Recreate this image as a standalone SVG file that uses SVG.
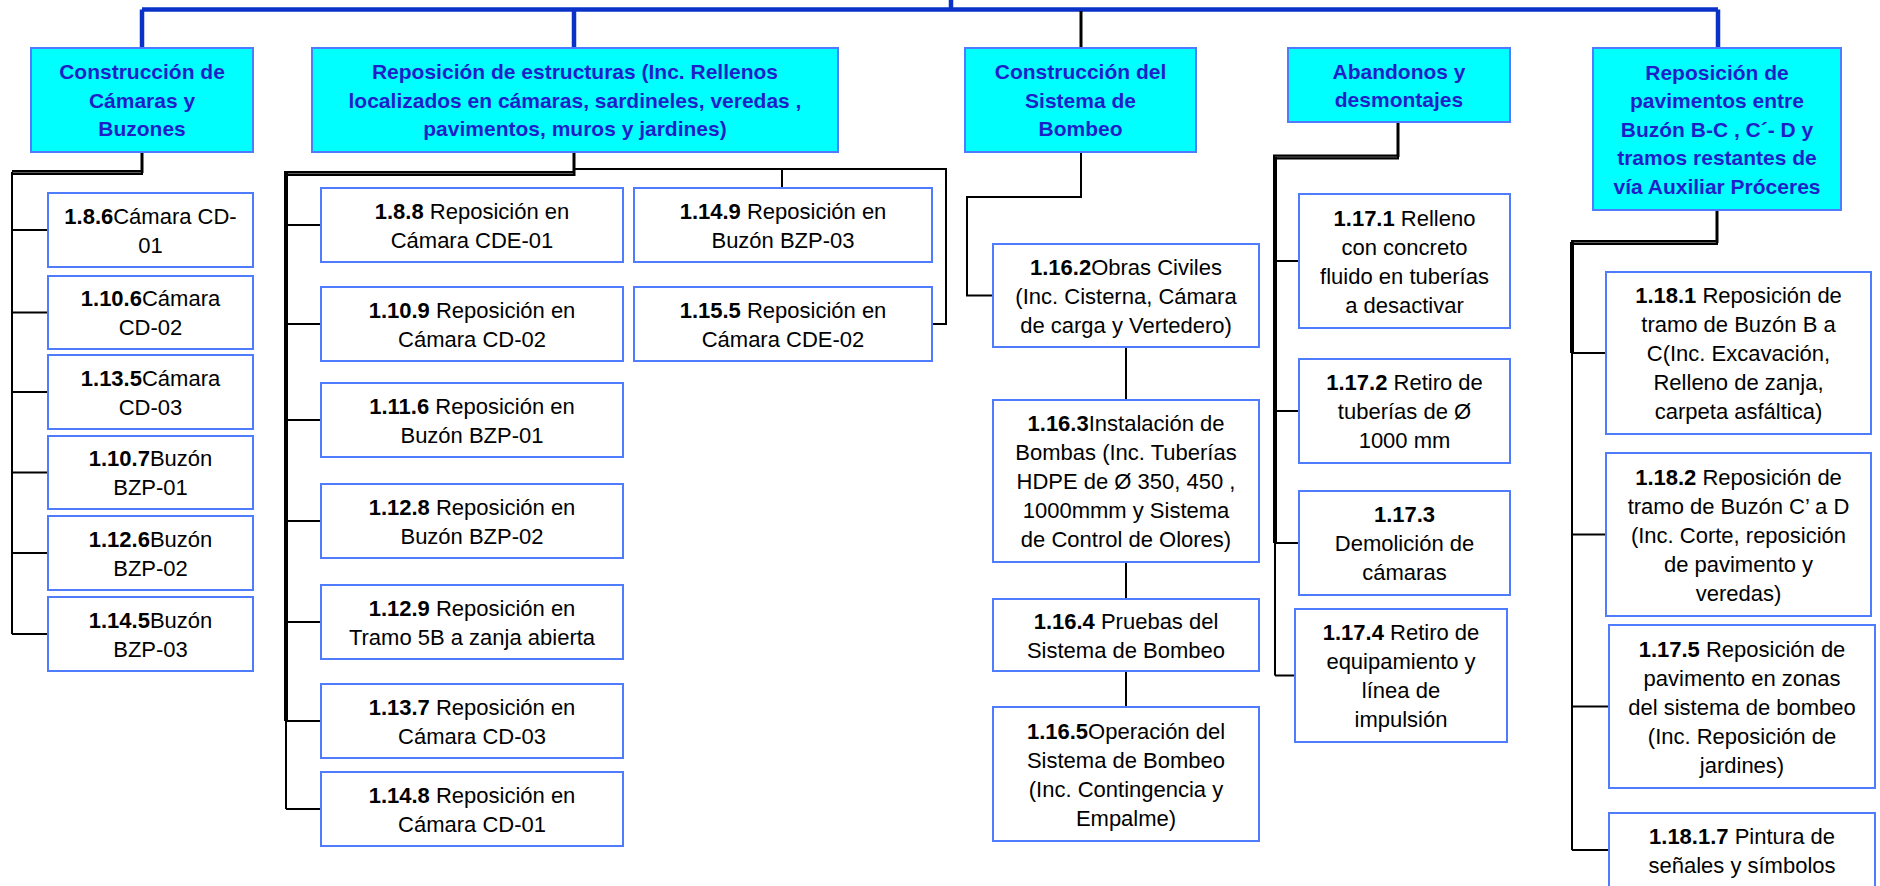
<svg xmlns="http://www.w3.org/2000/svg" width="1880" height="886" viewBox="0 0 1880 886">
  <style>
    .hdr rect { fill: #00FFFF; stroke: #4f7cff; stroke-width: 2; }
    .box rect { fill: #ffffff; stroke: #4f7cff; stroke-width: 2; }
    .ht { font-family: "Liberation Sans", Arial, sans-serif; font-size: 21px; font-weight: bold; fill: #1f1fc8; text-anchor: middle; }
    .t { font-family: "Liberation Sans", Arial, sans-serif; font-size: 22px; fill: #000000; text-anchor: middle; }
    .b { font-weight: bold; }
    .blue { fill: none; stroke: #0a32c8; stroke-width: 4.5; }
    .w { fill: none; stroke: #000000; stroke-width: 2; }
    .w3 { fill: none; stroke: #000000; stroke-width: 3; }
    .thick { fill: none; stroke: #000000; stroke-width: 5; }
    .stripe { fill: none; stroke: #777777; stroke-width: 0.8; }
    .rail { fill: none; stroke: #000000; stroke-width: 4; }
  </style>

  <!-- connectors -->
  <g id="connectors">
    <!-- top level bus -->
    <path class="blue" d="M142 9.5 H1718"/>
    <path class="blue" d="M951 0 V9.5"/>
    <path class="blue" stroke-width="4" d="M142 9.5 V48 M574 9.5 V48 M1718 9.5 V48"/>
    <path class="w3" d="M1081 11 V48"/>

    <!-- column 1 -->
    <path class="w3" d="M142 152 V173"/>
    <path class="thick" d="M12 172.5 H143"/>
    <path class="stripe" d="M13 172.5 H141"/>
    <path class="w" d="M12 172 V634"/>
    <path class="w" d="M12 230 H48 M12 312.5 H48 M12 392 H48 M12 472.5 H48 M12 553 H48 M12 634 H48"/>

    <!-- column 2 -->
    <path class="w3" d="M574 152 V176"/>
    <path class="w" d="M574 169 H946 V324 H932 M782 169 V188"/>
    <path class="thick" d="M286 173.5 H575"/>
    <path class="stripe" d="M288 173.5 H573"/>
    <path class="rail" d="M286 171 V721"/>
    <path class="w" d="M286 721 V809"/>
    <path class="w" d="M286 225 H321 M286 324 H321 M286 420 H321 M286 521 H321 M286 622 H321 M286 721 H321 M286 809 H321"/>

    <!-- column 3 -->
    <path class="w" d="M1081 152 V197 H967 V295.5 H993"/>
    <path class="w" d="M1126 347 V400 M1126 562 V599 M1126 671 V707"/>

    <!-- column 4 -->
    <path class="w3" d="M1398 122 V157"/>
    <path class="thick" d="M1273 157 H1399"/>
    <path class="stripe" d="M1275 157 H1397"/>
    <path class="rail" d="M1275 157 V543"/>
    <path class="w" d="M1275 543 V675.5"/>
    <path class="w" d="M1275 261 H1299 M1275 411 H1299 M1275 543 H1299 M1275 675.5 H1295"/>

    <!-- column 5 -->
    <path class="w3" d="M1717 210 V243"/>
    <path class="thick" d="M1571 242.5 H1718"/>
    <path class="stripe" d="M1573 242.5 H1716"/>
    <path class="rail" d="M1572 242 V353"/>
    <path class="w" d="M1572 353 V850"/>
    <path class="w" d="M1572 353 H1606 M1572 534.5 H1606 M1572 706.5 H1609 M1572 850 H1609"/>
  </g>

  <!-- header nodes -->
  <g id="h1" class="hdr">
    <rect x="31" y="48" width="222" height="104"/>
    <text class="ht"><tspan x="142" y="79">Construcción de</tspan><tspan x="142" y="107.5">Cámaras y</tspan><tspan x="142" y="136">Buzones</tspan></text>
  </g>
  <g id="h2" class="hdr">
    <rect x="312" y="48" width="526" height="104"/>
    <text class="ht"><tspan x="575" y="79">Reposición de estructuras (Inc. Rellenos</tspan><tspan x="575" y="107.5">localizados en cámaras, sardineles, veredas ,</tspan><tspan x="575" y="136">pavimentos, muros y jardines)</tspan></text>
  </g>
  <g id="h3" class="hdr">
    <rect x="965" y="48" width="231" height="104"/>
    <text class="ht"><tspan x="1080.5" y="79">Construcción del</tspan><tspan x="1080.5" y="107.5">Sistema de</tspan><tspan x="1080.5" y="136">Bombeo</tspan></text>
  </g>
  <g id="h4" class="hdr">
    <rect x="1288" y="48" width="222" height="74"/>
    <text class="ht"><tspan x="1399" y="78.5">Abandonos y</tspan><tspan x="1399" y="107">desmontajes</tspan></text>
  </g>
  <g id="h5" class="hdr">
    <rect x="1593" y="48" width="248" height="162"/>
    <text class="ht"><tspan x="1717" y="79.5">Reposición de</tspan><tspan x="1717" y="108">pavimentos entre</tspan><tspan x="1717" y="136.5">Buzón B-C , C´- D y</tspan><tspan x="1717" y="165">tramos restantes de</tspan><tspan x="1717" y="193.5">vía Auxiliar Próceres</tspan></text>
  </g>

  <!-- column 1 items -->
  <g id="n186" class="box">
    <rect x="48" y="193" width="205" height="74"/>
    <text class="t"><tspan x="150.5" y="223.5"><tspan class="b">1.8.6</tspan>Cámara CD-</tspan><tspan x="150.5" y="252.5">01</tspan></text>
  </g>
  <g id="n1106" class="box">
    <rect x="48" y="276" width="205" height="73"/>
    <text class="t"><tspan x="150.5" y="306"><tspan class="b">1.10.6</tspan>Cámara</tspan><tspan x="150.5" y="335">CD-02</tspan></text>
  </g>
  <g id="n1135" class="box">
    <rect x="48" y="355" width="205" height="74"/>
    <text class="t"><tspan x="150.5" y="385.5"><tspan class="b">1.13.5</tspan>Cámara</tspan><tspan x="150.5" y="414.5">CD-03</tspan></text>
  </g>
  <g id="n1107" class="box">
    <rect x="48" y="436" width="205" height="73"/>
    <text class="t"><tspan x="150.5" y="466"><tspan class="b">1.10.7</tspan>Buzón</tspan><tspan x="150.5" y="495">BZP-01</tspan></text>
  </g>
  <g id="n1126" class="box">
    <rect x="48" y="516" width="205" height="74"/>
    <text class="t"><tspan x="150.5" y="546.5"><tspan class="b">1.12.6</tspan>Buzón</tspan><tspan x="150.5" y="575.5">BZP-02</tspan></text>
  </g>
  <g id="n1145" class="box">
    <rect x="48" y="597" width="205" height="74"/>
    <text class="t"><tspan x="150.5" y="627.5"><tspan class="b">1.14.5</tspan>Buzón</tspan><tspan x="150.5" y="656.5">BZP-03</tspan></text>
  </g>

  <!-- column 2 items -->
  <g id="n188" class="box">
    <rect x="321" y="188" width="302" height="74"/>
    <text class="t"><tspan x="472" y="218.5"><tspan class="b">1.8.8</tspan> Reposición en</tspan><tspan x="472" y="247.5">Cámara CDE-01</tspan></text>
  </g>
  <g id="n1109" class="box">
    <rect x="321" y="287" width="302" height="74"/>
    <text class="t"><tspan x="472" y="317.5"><tspan class="b">1.10.9</tspan> Reposición en</tspan><tspan x="472" y="346.5">Cámara CD-02</tspan></text>
  </g>
  <g id="n1116" class="box">
    <rect x="321" y="383" width="302" height="74"/>
    <text class="t"><tspan x="472" y="413.5"><tspan class="b">1.11.6</tspan> Reposición en</tspan><tspan x="472" y="442.5">Buzón BZP-01</tspan></text>
  </g>
  <g id="n1128" class="box">
    <rect x="321" y="484" width="302" height="74"/>
    <text class="t"><tspan x="472" y="514.5"><tspan class="b">1.12.8</tspan> Reposición en</tspan><tspan x="472" y="543.5">Buzón BZP-02</tspan></text>
  </g>
  <g id="n1129" class="box">
    <rect x="321" y="585" width="302" height="74"/>
    <text class="t"><tspan x="472" y="615.5"><tspan class="b">1.12.9</tspan> Reposición en</tspan><tspan x="472" y="644.5">Tramo 5B a zanja abierta</tspan></text>
  </g>
  <g id="n1137" class="box">
    <rect x="321" y="684" width="302" height="74"/>
    <text class="t"><tspan x="472" y="714.5"><tspan class="b">1.13.7</tspan> Reposición en</tspan><tspan x="472" y="743.5">Cámara CD-03</tspan></text>
  </g>
  <g id="n1148" class="box">
    <rect x="321" y="772" width="302" height="74"/>
    <text class="t"><tspan x="472" y="802.5"><tspan class="b">1.14.8</tspan> Reposición en</tspan><tspan x="472" y="831.5">Cámara CD-01</tspan></text>
  </g>
  <g id="n1149" class="box">
    <rect x="634" y="188" width="298" height="74"/>
    <text class="t"><tspan x="783" y="218.5"><tspan class="b">1.14.9</tspan> Reposición en</tspan><tspan x="783" y="247.5">Buzón BZP-03</tspan></text>
  </g>
  <g id="n1155" class="box">
    <rect x="634" y="287" width="298" height="74"/>
    <text class="t"><tspan x="783" y="317.5"><tspan class="b">1.15.5</tspan> Reposición en</tspan><tspan x="783" y="346.5">Cámara CDE-02</tspan></text>
  </g>

  <!-- column 3 items -->
  <g id="n1162" class="box">
    <rect x="993" y="244" width="266" height="103"/>
    <text class="t"><tspan x="1126" y="274.5"><tspan class="b">1.16.2</tspan>Obras Civiles</tspan><tspan x="1126" y="303.5">(Inc. Cisterna, Cámara</tspan><tspan x="1126" y="332.5">de carga y Vertedero)</tspan></text>
  </g>
  <g id="n1163" class="box">
    <rect x="993" y="400" width="266" height="162"/>
    <text class="t"><tspan x="1126" y="431"><tspan class="b">1.16.3</tspan>Instalación de</tspan><tspan x="1126" y="460">Bombas (Inc. Tuberías</tspan><tspan x="1126" y="489">HDPE de Ø 350, 450 ,</tspan><tspan x="1126" y="518">1000mmm y Sistema</tspan><tspan x="1126" y="547">de Control de Olores)</tspan></text>
  </g>
  <g id="n1164" class="box">
    <rect x="993" y="599" width="266" height="72"/>
    <text class="t"><tspan x="1126" y="628.5"><tspan class="b">1.16.4</tspan> Pruebas del</tspan><tspan x="1126" y="657.5">Sistema de Bombeo</tspan></text>
  </g>
  <g id="n1165" class="box">
    <rect x="993" y="707" width="266" height="134"/>
    <text class="t"><tspan x="1126" y="738.5"><tspan class="b">1.16.5</tspan>Operación del</tspan><tspan x="1126" y="767.5">Sistema de Bombeo</tspan><tspan x="1126" y="796.5">(Inc. Contingencia y</tspan><tspan x="1126" y="825.5">Empalme)</tspan></text>
  </g>

  <!-- column 4 items -->
  <g id="n1171" class="box">
    <rect x="1299" y="194" width="211" height="134"/>
    <text class="t"><tspan x="1404.5" y="225.5"><tspan class="b">1.17.1</tspan> Relleno</tspan><tspan x="1404.5" y="254.5">con concreto</tspan><tspan x="1404.5" y="283.5">fluido en tuberías</tspan><tspan x="1404.5" y="312.5">a desactivar</tspan></text>
  </g>
  <g id="n1172" class="box">
    <rect x="1299" y="359" width="211" height="104"/>
    <text class="t"><tspan x="1404.5" y="390"><tspan class="b">1.17.2</tspan> Retiro de</tspan><tspan x="1404.5" y="419">tuberías de Ø</tspan><tspan x="1404.5" y="448">1000 mm</tspan></text>
  </g>
  <g id="n1173" class="box">
    <rect x="1299" y="491" width="211" height="104"/>
    <text class="t"><tspan x="1404.5" y="522" class="b">1.17.3</tspan><tspan x="1404.5" y="551">Demolición de</tspan><tspan x="1404.5" y="580">cámaras</tspan></text>
  </g>
  <g id="n1174" class="box">
    <rect x="1295" y="609" width="212" height="133"/>
    <text class="t"><tspan x="1401" y="640"><tspan class="b">1.17.4</tspan> Retiro de</tspan><tspan x="1401" y="669">equipamiento y</tspan><tspan x="1401" y="698">línea de</tspan><tspan x="1401" y="727">impulsión</tspan></text>
  </g>

  <!-- column 5 items -->
  <g id="n1181" class="box">
    <rect x="1606" y="272" width="265" height="162"/>
    <text class="t"><tspan x="1738.5" y="303"><tspan class="b">1.18.1</tspan> Reposición de</tspan><tspan x="1738.5" y="332">tramo de Buzón B a</tspan><tspan x="1738.5" y="361">C(Inc. Excavación,</tspan><tspan x="1738.5" y="390">Relleno de zanja,</tspan><tspan x="1738.5" y="419">carpeta asfáltica)</tspan></text>
  </g>
  <g id="n1182" class="box">
    <rect x="1606" y="453" width="265" height="163"/>
    <text class="t"><tspan x="1738.5" y="484.5"><tspan class="b">1.18.2</tspan> Reposición de</tspan><tspan x="1738.5" y="513.5">tramo de Buzón C’ a D</tspan><tspan x="1738.5" y="542.5">(Inc. Corte, reposición</tspan><tspan x="1738.5" y="571.5">de pavimento y</tspan><tspan x="1738.5" y="600.5">veredas)</tspan></text>
  </g>
  <g id="n1175" class="box">
    <rect x="1609" y="625" width="266" height="163"/>
    <text class="t"><tspan x="1742" y="656.5"><tspan class="b">1.17.5</tspan> Reposición de</tspan><tspan x="1742" y="685.5">pavimento en zonas</tspan><tspan x="1742" y="714.5">del sistema de bombeo</tspan><tspan x="1742" y="743.5">(Inc. Reposición de</tspan><tspan x="1742" y="772.5">jardines)</tspan></text>
  </g>
  <g id="n11817" class="box">
    <rect x="1609" y="813" width="266" height="74"/>
    <text class="t"><tspan x="1742" y="843.5"><tspan class="b">1.18.1.7</tspan> Pintura de</tspan><tspan x="1742" y="872.5">señales y símbolos</tspan></text>
  </g>
</svg>
